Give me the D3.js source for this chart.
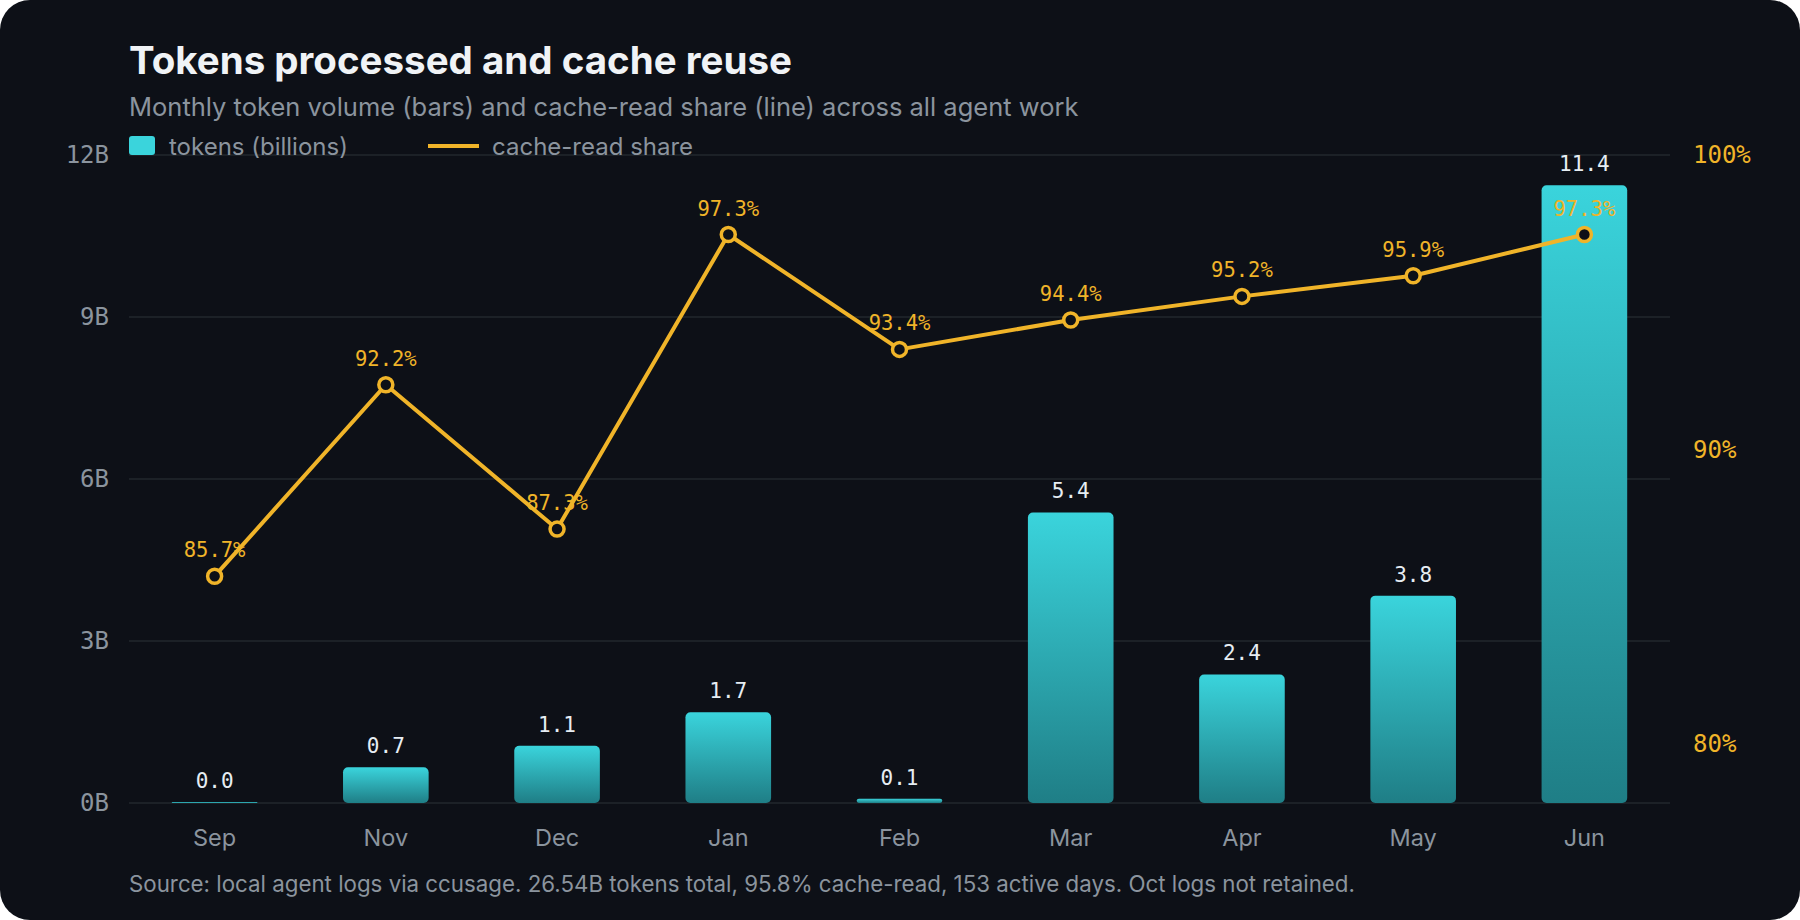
<!DOCTYPE html>
<html>
<head>
<meta charset="utf-8">
<script src="https://cdn.jsdelivr.net/npm/d3@7"></script>
<style>
  html, body { margin: 0; padding: 0; background: #ffffff; }
  svg { display: block; }
</style>
</head>
<body>
<svg id="chart" width="1800" height="920"></svg>
<script>
// data
var months = ['Sep', 'Nov', 'Dec', 'Jan', 'Feb', 'Mar', 'Apr', 'May', 'Jun'];
var tokens = [0.02, 0.66, 1.06, 1.68, 0.08, 5.38, 2.38, 3.84, 11.44];
var cacheShare = [85.7, 92.2, 87.3, 97.3, 93.4, 94.4, 95.2, 95.9, 97.3];
var leftTicks = [0, 3, 6, 9, 12];
var rightTicks = [80, 90, 100];

var W = 1800, H = 920;
var margin = { top: 155, right: 130, bottom: 117, left: 129 };
var mono = '"DejaVu Sans Mono", monospace';
var sans = 'Inter, "Noto Sans", sans-serif';

var svg = d3.select('#chart');

// card background
svg.append('rect')
  .attr('x', 0).attr('y', 0)
  .attr('width', W).attr('height', H)
  .attr('rx', 30)
  .attr('fill', '#0d1017');

var defs = svg.append('defs');
var grad = defs.append('linearGradient')
  .attr('id', 'barGrad')
  .attr('x1', 0).attr('y1', 0).attr('x2', 0).attr('y2', 1);
grad.append('stop').attr('offset', '0%').attr('stop-color', '#3ad4dc');
grad.append('stop').attr('offset', '100%').attr('stop-color', '#1f7e86');

var x = d3.scaleBand()
  .domain(months)
  .range([margin.left, W - margin.right])
  .paddingInner(0.5)
  .paddingOuter(0.25);

var y = d3.scaleLinear()
  .domain([0, 12])
  .range([H - margin.bottom, margin.top]);

var y2 = d3.scaleLinear()
  .domain([78, 100])
  .range([H - margin.bottom, margin.top]);

// gridlines
svg.append('g')
  .selectAll('line')
  .data(leftTicks)
  .join('line')
  .attr('x1', margin.left)
  .attr('x2', W - margin.right)
  .attr('y1', function(d) { return y(d); })
  .attr('y2', function(d) { return y(d); })
  .attr('stroke', '#22272e')
  .attr('stroke-width', 1.5);

// left axis
var leftAxis = svg.append('g')
  .attr('transform', 'translate(' + (margin.left - 20) + ',0)')
  .call(d3.axisLeft(y).tickValues(leftTicks).tickSize(0).tickPadding(0)
    .tickFormat(function(d) { return d + 'B'; }));
leftAxis.select('.domain').remove();
leftAxis.selectAll('text')
  .attr('fill', '#8b949e')
  .attr('font-family', mono)
  .attr('font-size', 24);

// right axis
var rightAxis = svg.append('g')
  .attr('transform', 'translate(' + (W - margin.right + 23) + ',0)')
  .call(d3.axisRight(y2).tickValues(rightTicks).tickSize(0).tickPadding(0)
    .tickFormat(function(d) { return d + '%'; }));
rightAxis.select('.domain').remove();
rightAxis.selectAll('text')
  .attr('fill', '#f0b429')
  .attr('font-family', mono)
  .attr('font-size', 24);

// x axis
var xAxis = svg.append('g')
  .attr('transform', 'translate(0,' + (H - margin.bottom) + ')')
  .call(d3.axisBottom(x).tickSize(0).tickPadding(26));
xAxis.select('.domain').remove();
xAxis.selectAll('text')
  .attr('fill', '#8b949e')
  .attr('font-family', sans)
  .attr('font-size', 23.5);

// bars
svg.append('g')
  .selectAll('rect')
  .data(tokens)
  .join('rect')
  .attr('x', function(d, i) { return x(months[i]); })
  .attr('y', function(d) { return y(d); })
  .attr('width', x.bandwidth())
  .attr('height', function(d) { return y(0) - y(d); })
  .attr('rx', function(d) { return Math.min(5, (y(0) - y(d)) / 2); })
  .attr('fill', 'url(#barGrad)');

// bar labels
svg.append('g')
  .selectAll('text')
  .data(tokens)
  .join('text')
  .attr('x', function(d, i) { return x(months[i]) + x.bandwidth() / 2; })
  .attr('y', function(d) { return y(d) - 14; })
  .attr('text-anchor', 'middle')
  .attr('fill', '#e6edf3')
  .attr('font-family', mono)
  .attr('font-size', 21)
  .text(function(d) { return d.toFixed(1); });

// cache-read share line
var line = d3.line()
  .x(function(d, i) { return x(months[i]) + x.bandwidth() / 2; })
  .y(function(d) { return y2(d); });

svg.append('path')
  .datum(cacheShare)
  .attr('d', line)
  .attr('fill', 'none')
  .attr('stroke', '#f0b429')
  .attr('stroke-width', 4)
  .attr('stroke-linejoin', 'round');

svg.append('g')
  .selectAll('circle')
  .data(cacheShare)
  .join('circle')
  .attr('cx', function(d, i) { return x(months[i]) + x.bandwidth() / 2; })
  .attr('cy', function(d) { return y2(d); })
  .attr('r', 7)
  .attr('fill', '#0d1017')
  .attr('stroke', '#f0b429')
  .attr('stroke-width', 3.5);

svg.append('g')
  .selectAll('text')
  .data(cacheShare)
  .join('text')
  .attr('x', function(d, i) { return x(months[i]) + x.bandwidth() / 2; })
  .attr('y', function(d) { return y2(d) - 19; })
  .attr('text-anchor', 'middle')
  .attr('fill', '#f0b429')
  .attr('font-family', mono)
  .attr('font-size', 20.5)
  .text(function(d) { return d.toFixed(1) + '%'; });

// title and subtitle
svg.append('text')
  .attr('x', 129).attr('y', 74)
  .attr('fill', '#f0f3f6')
  .attr('font-family', sans)
  .attr('font-weight', 700)
  .attr('font-size', 38.5)
  .text('Tokens processed and cache reuse');

svg.append('text')
  .attr('x', 129).attr('y', 116)
  .attr('fill', '#8b949e')
  .attr('font-family', sans)
  .attr('font-size', 25.5)
  .text('Monthly token volume (bars) and cache-read share (line) across all agent work');

// legend
var legend = svg.append('g').attr('transform', 'translate(129,146)');
legend.append('rect')
  .attr('x', 0).attr('y', -10)
  .attr('width', 26).attr('height', 19)
  .attr('rx', 3)
  .attr('fill', '#3ad4dc');
legend.append('text')
  .attr('x', 40).attr('y', 8.5)
  .attr('fill', '#8b949e')
  .attr('font-family', sans)
  .attr('font-size', 24)
  .text('tokens (billions)');
legend.append('line')
  .attr('x1', 299).attr('x2', 350)
  .attr('y1', 0).attr('y2', 0)
  .attr('stroke', '#f0b429')
  .attr('stroke-width', 4);
legend.append('text')
  .attr('x', 363).attr('y', 8.5)
  .attr('fill', '#8b949e')
  .attr('font-family', sans)
  .attr('font-size', 24)
  .text('cache-read share');

// footer
svg.append('text')
  .attr('x', 129).attr('y', 892)
  .attr('fill', '#8b949e')
  .attr('font-family', sans)
  .attr('font-size', 22.3)
  .text('Source: local agent logs via ccusage. 26.54B tokens total, 95.8% cache-read, 153 active days. Oct logs not retained.');
</script>
</body>
</html>
